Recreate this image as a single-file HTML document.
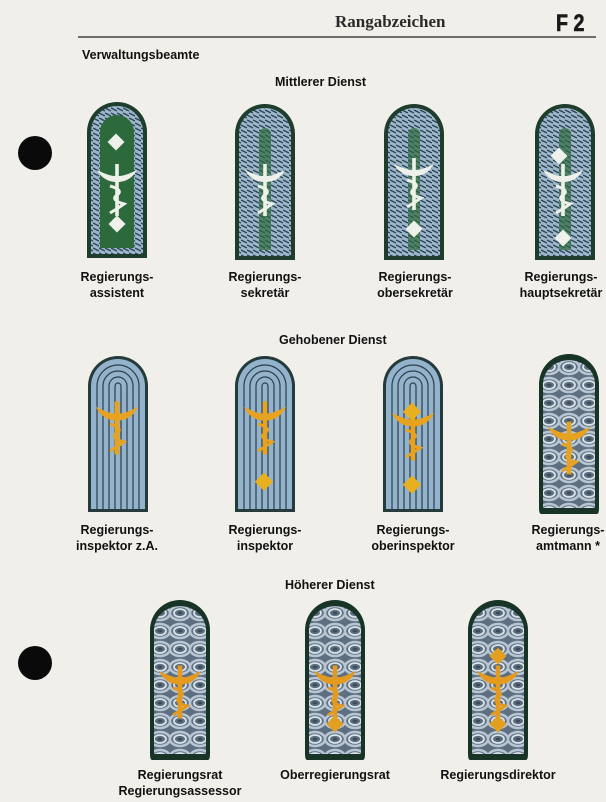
<!DOCTYPE html>
<html><head><meta charset="utf-8"><style>
html,body{margin:0;padding:0;background:#f1efe9;}
body{width:606px;height:802px;position:relative;overflow:hidden;font-family:"Liberation Sans",Arial,sans-serif;}
.t{position:absolute;font-weight:bold;font-size:12.5px;color:#111;text-align:center;line-height:16px;white-space:nowrap;}
</style></head><body>
<svg width="606" height="802" style="position:absolute;left:0;top:0">
<defs>
<pattern id="br" width="6" height="5" patternUnits="userSpaceOnUse">
<rect width="6" height="5" fill="#9db6cc"/>
<path d="M0,1 L6,4" stroke="#2a4350" stroke-width="1.3"/>
</pattern>
<pattern id="br2" width="20" height="18" patternUnits="userSpaceOnUse">
<rect width="20" height="18" fill="#5d6f80"/>
<ellipse cx="10" cy="9" rx="10" ry="7" fill="none" stroke="#b8c6d3" stroke-width="2.5"/>
<ellipse cx="10" cy="9" rx="6" ry="4" fill="none" stroke="#dbe3ea" stroke-width="1.8"/>
<ellipse cx="10" cy="9" rx="2.5" ry="1.5" fill="#3c4c5a"/>
</pattern>
<g id="cad">
<path d="M-20,-8 Q-8,-2 -2,-2 L2,-2 Q8,-2 20,-8 Q14,3 2,4 L-2,4 Q-14,3 -20,-8Z"/>
<rect x="-1.8" y="-14" width="3.6" height="52"/>
<path d="M-7,8 Q7,12 0,17 Q-7,22 7,26 Q0,31 -7,35" fill="none" stroke-width="3"/>
</g>
<g id="mit">
<path d="M0,156 V30 A30,30 0 0 1 60,30 V156 Z" fill="#1f3d2c"/>
<path d="M4,152 V30 A26,26 0 0 1 56,30 V152 Z" fill="url(#br)"/>
<path d="M13,146 V30 A17,17 0 0 1 47,30 V146 Z" fill="#2c6a3c"/>
</g>
<g id="mit2">
<path d="M0,156 V30 A30,30 0 0 1 60,30 V156 Z" fill="#1f3d2c"/>
<path d="M4,152 V30 A26,26 0 0 1 56,30 V152 Z" fill="url(#br)"/>
<path d="M24,146 V30 A6,6 0 0 1 36,30 V146 Z" fill="#2c6a3c" opacity=".7"/>
</g>
<g id="geh">
<path d="M0,156 V30 A30,30 0 0 1 60,30 V156 Z" fill="#253a3a"/>
<path d="M3,153 V30 A27,27 0 0 1 57,30 V153 Z" fill="#93b2cc"/>
<g fill="none" stroke="#2b3f4a" stroke-width="1.2">
<path d="M9,153 V30 A21,21 0 0 1 51,30 V153"/>
<path d="M15,153 V30 A15,15 0 0 1 45,30 V153"/>
<path d="M21,153 V30 A9,9 0 0 1 39,30 V153"/>
<path d="M27,153 V30 A3,3 0 0 1 33,30 V153"/>
</g>
</g>
<g id="hoe">
<path d="M2,156 Q0,156 0,150 V26 A26,26 0 0 1 60,26 V150 Q60,156 58,156 Z" fill="#173426"/>
<path d="M4,150 V26 A24,22 0 0 1 56,26 V150 Z" fill="url(#br2)"/>
</g>
</defs>
<text x="335" y="27" font-family="Liberation Serif,serif" font-weight="bold" font-size="17" fill="#2a2a2a">Rangabzeichen</text>
<text x="556" y="31" font-family="Liberation Sans,sans-serif" font-weight="bold" font-size="24" fill="#1a1a1a" stroke="#1a1a1a" stroke-width="0.6" transform="translate(556 0) scale(0.82 1) translate(-556 0)">F 2</text>
<line x1="78" y1="37" x2="596" y2="37" stroke="#444" stroke-width="1.5"/>
<circle cx="35" cy="153" r="17" fill="#0a0a0a"/>
<circle cx="35" cy="663" r="17" fill="#0a0a0a"/>
<use href="#mit" x="87" y="102"/>
<use href="#mit2" x="235" y="104"/>
<use href="#mit2" x="384" y="104"/>
<use href="#mit2" x="535" y="104"/>
<g fill="#eef0ea" stroke="#eef0ea" stroke-width="0">
<use href="#cad" x="117" y="178"/><use href="#cad" x="265" y="178"/><use href="#cad" x="414" y="172"/><use href="#cad" x="563" y="178"/>
</g>
<g fill="#eef0ea">
<rect x="110" y="136" width="12" height="12" transform="rotate(45 116 142)"/>
<rect x="111" y="218" width="12" height="12" transform="rotate(45 117 224)"/>
<rect x="408" y="223" width="12" height="12" transform="rotate(45 414 229)"/>
<rect x="553" y="150" width="12" height="12" transform="rotate(45 559 156)"/>
<rect x="557" y="232" width="12" height="12" transform="rotate(45 563 238)"/>
</g>
<use href="#geh" x="88" y="356"/>
<use href="#geh" x="235" y="356"/>
<use href="#geh" x="383" y="356"/>
<use href="#hoe" x="539" y="358"/>
<g fill="#e7a320" stroke="#e7a320">
<use href="#cad" x="117" y="416"/><use href="#cad" x="265" y="416"/><use href="#cad" x="413" y="422"/><use href="#cad" x="569" y="436"/>
</g>
<g fill="#e6b020">
<rect x="258" y="475" width="13" height="13" transform="rotate(45 264 481)"/>
<rect x="406" y="405" width="13" height="13" transform="rotate(45 412 411)"/>
<rect x="406" y="478" width="13" height="13" transform="rotate(45 412 484)"/>
</g>
<use href="#hoe" x="150" y="604"/>
<use href="#hoe" x="305" y="604"/>
<use href="#hoe" x="468" y="604"/>
<g fill="#e39a1e" stroke="#e39a1e">
<use href="#cad" x="180" y="680"/><use href="#cad" x="335" y="680"/><use href="#cad" x="498" y="680"/>
</g>
<g fill="#e3a020">
<rect x="329" y="718" width="12" height="12" transform="rotate(45 335 724)"/>
<rect x="492" y="650" width="12" height="12" transform="rotate(45 498 656)"/>
<rect x="492" y="718" width="12" height="12" transform="rotate(45 498 724)"/>
</g>
</svg>
<div class="t" style="left:82px;top:47px;">Verwaltungsbeamte</div>
<div class="t" style="left:275px;top:74px;">Mittlerer Dienst</div>
<div class="t" style="left:67px;top:269px;width:100px;">Regierungs-<br>assistent</div>
<div class="t" style="left:215px;top:269px;width:100px;">Regierungs-<br>sekretär</div>
<div class="t" style="left:360px;top:269px;width:110px;">Regierungs-<br>obersekretär</div>
<div class="t" style="left:506px;top:269px;width:110px;">Regierungs-<br>hauptsekretär</div>
<div class="t" style="left:279px;top:332px;">Gehobener Dienst</div>
<div class="t" style="left:62px;top:522px;width:110px;">Regierungs-<br>inspektor z.A.</div>
<div class="t" style="left:215px;top:522px;width:100px;">Regierungs-<br>inspektor</div>
<div class="t" style="left:358px;top:522px;width:110px;">Regierungs-<br>oberinspektor</div>
<div class="t" style="left:513px;top:522px;width:110px;">Regierungs-<br>amtmann *</div>
<div class="t" style="left:285px;top:577px;">Höherer Dienst</div>
<div class="t" style="left:115px;top:767px;width:130px;">Regierungsrat<br>Regierungsassessor</div>
<div class="t" style="left:270px;top:767px;width:130px;">Oberregierungsrat</div>
<div class="t" style="left:428px;top:767px;width:140px;">Regierungsdirektor</div>
</body></html>
